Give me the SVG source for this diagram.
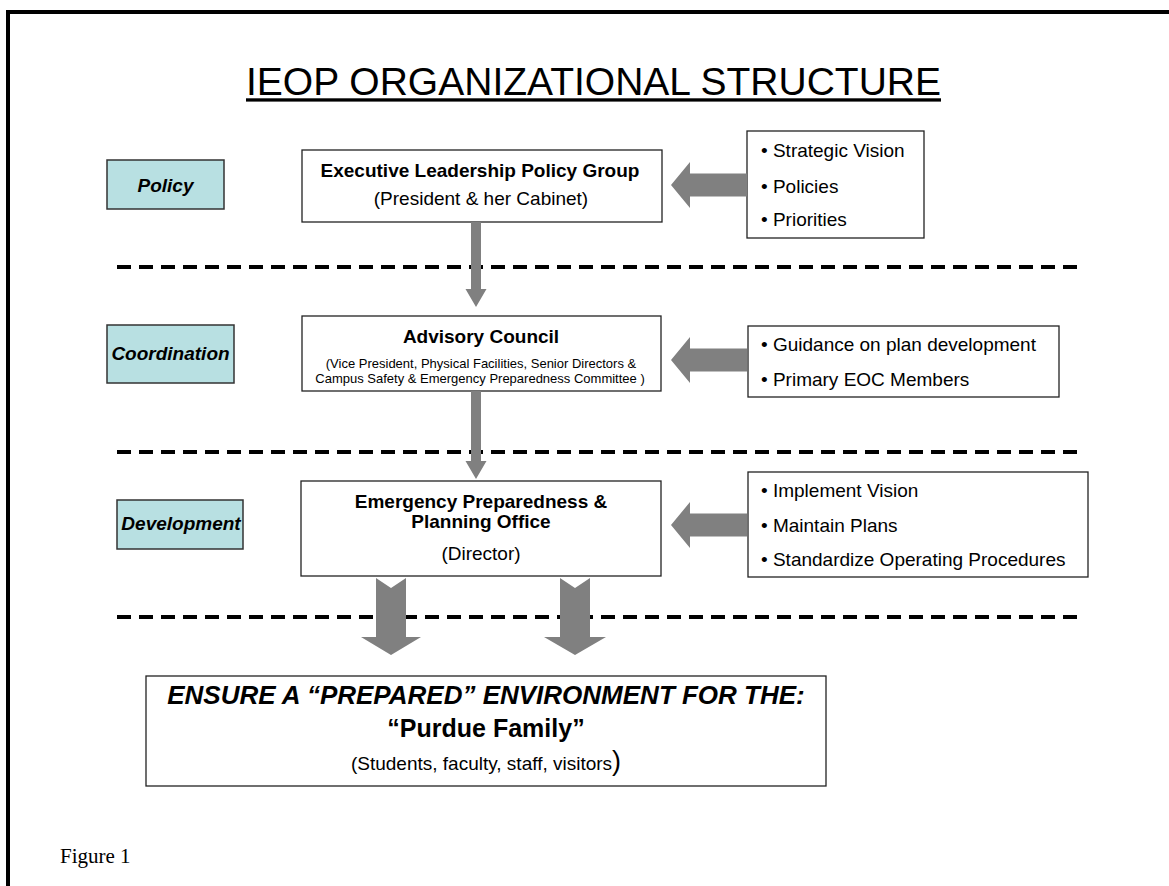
<svg xmlns="http://www.w3.org/2000/svg" width="1169" height="886" viewBox="0 0 1169 886">
<style>
text{font-family:"Liberation Sans",Arial,sans-serif;fill:#000}
.b{font-weight:bold}
.bi{font-weight:bold;font-style:italic}
.box{fill:#fff;stroke:#222;stroke-width:1.3}
.lab{fill:#B8E0E2;stroke:#333;stroke-width:1.5}
.sep{stroke:#000;stroke-width:4;stroke-dasharray:14 8;fill:none}
.arr{fill:#808080;stroke:none}
.t19{font-size:19px}
</style>
<rect width="1169" height="886" fill="#fff"/>
<rect x="8" y="12" width="1200" height="900" fill="none" stroke="#000" stroke-width="4"/>

<g id="title">
<text x="593.5" y="95" font-size="39" text-anchor="middle" textLength="695" lengthAdjust="spacingAndGlyphs">IEOP ORGANIZATIONAL STRUCTURE</text>
<rect x="246" y="98.3" width="695" height="3.3" fill="#000"/>
</g>

<g id="separators">
<line class="sep" x1="117" y1="267" x2="1082" y2="267"/>
<line class="sep" x1="117" y1="452" x2="1082" y2="452"/>
<line class="sep" x1="117" y1="617" x2="1082" y2="617"/>
</g>

<g id="label-policy">
<rect class="lab" x="107" y="160" width="117" height="49"/>
<text class="bi t19" x="165.5" y="192" text-anchor="middle">Policy</text>
</g>
<g id="label-coordination">
<rect class="lab" x="107" y="325" width="127" height="58"/>
<text class="bi t19" x="170.5" y="360" text-anchor="middle">Coordination</text>
</g>
<g id="label-development">
<rect class="lab" x="117" y="500" width="126" height="49"/>
<text class="bi t19" x="181" y="530" text-anchor="middle">Development</text>
</g>

<g id="node-executive">
<rect class="box" x="302" y="150" width="360" height="72"/>
<text class="b t19" x="480" y="177" text-anchor="middle">Executive Leadership Policy Group</text>
<text class="t19" x="481" y="205" text-anchor="middle">(President &amp; her Cabinet)</text>
</g>

<g id="node-advisory">
<rect class="box" x="302" y="316" width="359" height="75"/>
<text class="b t19" x="481" y="343" text-anchor="middle">Advisory Council</text>
<text x="481" y="368" font-size="13" text-anchor="middle">(Vice President, Physical Facilities, Senior Directors &amp;</text>
<text x="480" y="383" font-size="13" text-anchor="middle">Campus Safety &amp; Emergency Preparedness Committee )</text>
</g>

<g id="node-eppo">
<rect class="box" x="301" y="481" width="360" height="95"/>
<text class="b t19" x="481" y="508" text-anchor="middle">Emergency Preparedness &amp;</text>
<text class="b t19" x="481" y="528" text-anchor="middle">Planning Office</text>
<text class="t19" x="481" y="560" text-anchor="middle">(Director)</text>
</g>

<g id="node-strategic">
<rect class="box" x="747" y="131" width="177" height="107"/>
<text class="t19" x="761" y="157">• Strategic Vision</text>
<text class="t19" x="761" y="193">• Policies</text>
<text class="t19" x="761" y="226">• Priorities</text>
</g>

<g id="node-guidance">
<rect class="box" x="748" y="326" width="311" height="71"/>
<text class="t19" x="761" y="351">• Guidance on plan development</text>
<text class="t19" x="761" y="386">• Primary EOC Members</text>
</g>

<g id="node-implement">
<rect class="box" x="748" y="472" width="340" height="105"/>
<text class="t19" x="761" y="497">• Implement Vision</text>
<text class="t19" x="761" y="532">• Maintain Plans</text>
<text class="t19" x="761" y="566">• Standardize Operating Procedures</text>
</g>

<g id="node-ensure">
<rect class="box" x="146" y="676" width="680" height="110"/>
<text class="bi" x="486" y="704" font-size="26" text-anchor="middle">ENSURE A “PREPARED” ENVIRONMENT FOR THE:</text>
<text class="b" x="486" y="737" font-size="25" text-anchor="middle">“Purdue Family”</text>
<text x="486" y="770" font-size="19" text-anchor="middle">(Students, faculty, staff, visitors<tspan font-size="27">)</tspan></text>
</g>

<g id="connectors">
<path class="arr" d="M747 173.5 H690 V162 L671 185 L690 208 V196.5 H747 Z"/>
<path class="arr" d="M747 348.5 H690 V337 L671 360 L690 383 V371.5 H747 Z"/>
<path class="arr" d="M747 513.5 H690 V502 L671 525 L690 548 V536.5 H747 Z"/>
<path class="arr" d="M471 222 H481 V289 H486.5 L476 307 L465.5 289 H471 Z"/>
<path class="arr" d="M471 391 H481 V461 H486.5 L476 479 L465.5 461 H471 Z"/>
<path class="arr" d="M376 578 L391 588 L406 578 V637 H421 L391 655 L361 637 H376 Z"/>
<path class="arr" d="M560 578 L575 588 L590 578 V637 H606 L575 655 L544 637 H560 Z"/>
</g>

<text x="60" y="863" font-size="21" style="font-family:'Liberation Serif','Times New Roman',serif">Figure 1</text>
</svg>
